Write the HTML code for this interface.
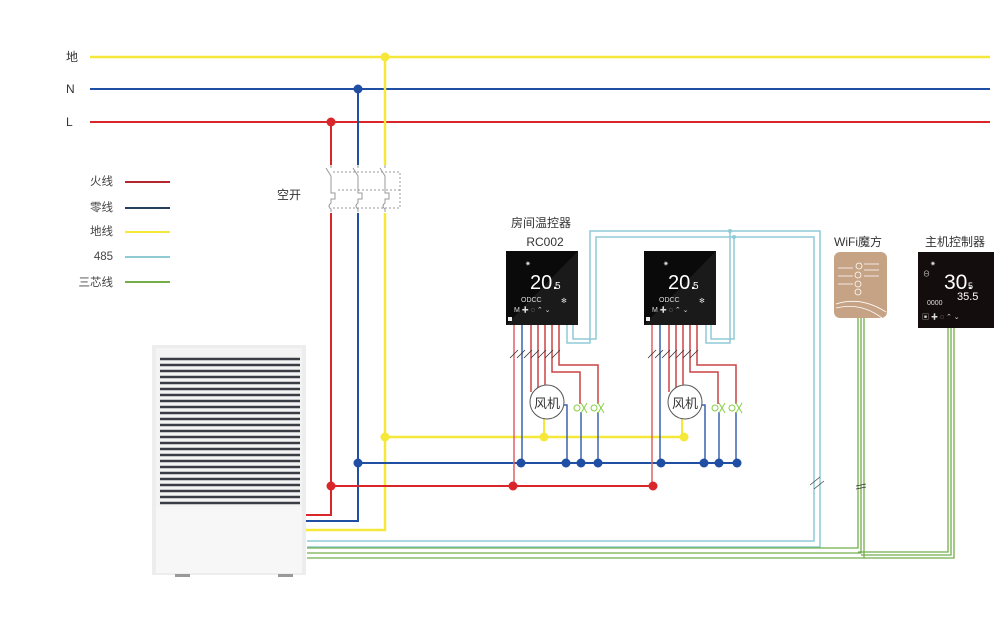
<!DOCTYPE html>
<html><head><meta charset="utf-8"><style>
html,body{margin:0;padding:0;background:#fff;}
svg{display:block;font-family:"Liberation Sans","Noto Sans CJK SC",sans-serif;}
</style></head><body>
<svg width="1008" height="643" viewBox="0 0 1008 643" xmlns="http://www.w3.org/2000/svg">
<rect width="1008" height="643" fill="#fff"/>
<g font-size="12" fill="#333">
<text x="66" y="61">地</text><text x="66" y="93">N</text><text x="66" y="126">L</text>
</g>
<line x1="90" y1="57" x2="990" y2="57" stroke="#f5e83a" stroke-width="2.5"/>
<line x1="90" y1="89" x2="990" y2="89" stroke="#1f4ea3" stroke-width="2"/>
<line x1="90" y1="122" x2="990" y2="122" stroke="#d9262b" stroke-width="2"/>
<g font-size="11.5" fill="#444" text-anchor="end">
<text x="113" y="185">火线</text><text x="113" y="211">零线</text><text x="113" y="235">地线</text><text x="113" y="260">485</text><text x="113" y="286">三芯线</text>
</g>
<line x1="125" y1="182" x2="170" y2="182" stroke="#b3262b" stroke-width="2"/>
<line x1="125" y1="208" x2="170" y2="208" stroke="#243e5e" stroke-width="2"/>
<line x1="125" y1="232" x2="170" y2="232" stroke="#f5e83a" stroke-width="2"/>
<line x1="125" y1="257" x2="170" y2="257" stroke="#8fcbd5" stroke-width="2"/>
<line x1="125" y1="282" x2="170" y2="282" stroke="#72ad4a" stroke-width="2"/>
<text x="277" y="199" font-size="12" fill="#333">空开</text>
<polyline points="331,122 331,165" fill="none" stroke="#d9262b" stroke-width="2"/>
<polyline points="358,89 358,165" fill="none" stroke="#1f4ea3" stroke-width="2"/>
<polyline points="385,57 385,165" fill="none" stroke="#f5e83a" stroke-width="2.5"/>
<g fill="none" stroke="#999" stroke-width="1">
<path d="M331,165 v3 M326,168 l5,8 v17 h4 v6 h-4 v4 q-4,3 0,6 v3"/>
<path d="M358,165 v3 M353,168 l5,8 v17 h4 v6 h-4 v4 q-4,3 0,6 v3"/>
<path d="M385,165 v3 M380,168 l5,8 v17 h4 v6 h-4 v4 q-4,3 0,6 v3"/>
<path d="M333,172 H400 V208 H333 M338,190 H400" stroke-dasharray="2,2"/>
</g>
<polyline points="331,213 331,515 305,515" fill="none" stroke="#d9262b" stroke-width="2"/>
<polyline points="358,213 358,521 305,521" fill="none" stroke="#1f4ea3" stroke-width="2"/>
<polyline points="385,213 385,530 305,530" fill="none" stroke="#f5e83a" stroke-width="2.5"/>
<line x1="385" y1="437" x2="685" y2="437" stroke="#f5e83a" stroke-width="2.5"/>
<line x1="358" y1="463" x2="738" y2="463" stroke="#1f4ea3" stroke-width="2"/>
<line x1="331" y1="486" x2="653" y2="486" stroke="#d9262b" stroke-width="2"/>
<g fill="none" stroke="#8fcbd5" stroke-width="1.5">
<polyline points="307,541 814,541 814,237 596,237 596,339 573,339 573,325"/>
<polyline points="307,547 820,547 820,231 590,231 590,343 567,343 567,325"/>
<polyline points="734,237 734,339 711,339 711,325"/>
<polyline points="730,231 730,343 706,343 706,325"/>
</g>
<circle cx="730" cy="231" r="2" fill="#8fcbd5"/><circle cx="734" cy="237" r="2" fill="#8fcbd5"/>
<path d="M810,485 l10,-8 M814,489 l10,-8" stroke="#444" stroke-width="0.8"/>
<g fill="none" stroke="#72ad4a" stroke-width="1.3">
<polyline points="307,548 858,548 858,318"/>
<polyline points="307,553 861,553 861,318"/>
<polyline points="307,558 864,558 864,318"/>
<polyline points="858,552 948,552 948,328"/>
<polyline points="861,555 951,555 951,328"/>
<polyline points="864,558 954,558 954,328"/>
</g>
<path d="M856,486 l10,-2 M856,489 l10,-2" stroke="#333" stroke-width="0.8"/>
<g id="t1">
<g fill="none" stroke-width="1.5">
<polyline points="514,325 514,486" stroke="#e06266"/>
<polyline points="522,325 522,463" stroke="#3a64ad"/>
<polyline points="531,325 531,392" stroke="#c44"/>
<polyline points="538,325 538,388" stroke="#c44"/>
<polyline points="545,325 545,386" stroke="#c44"/>
<polyline points="552,325 552,372 580,372 580,404" stroke="#c44"/>
<polyline points="559,325 559,365 598,365 598,404" stroke="#c44"/>
<polyline points="564,405 567,405 567,463" stroke="#3a64ad"/>
<polyline points="581,412 581,463" stroke="#3a64ad"/>
<polyline points="598,412 598,463" stroke="#3a64ad"/>
<line x1="544" y1="419" x2="544" y2="437" stroke="#f5e83a" stroke-width="2"/>
</g>
<path d="M510,358 l8,-8 M517,358 l8,-8 M524,358 l8,-8 M531,358 l8,-8 M538,358 l8,-8 M545,358 l8,-8 M552,358 l8,-8" stroke="#333" stroke-width="0.8"/>
<circle cx="547" cy="402" r="17" fill="#fff" stroke="#555" stroke-width="1"/>
<text x="547" y="408" font-size="13" text-anchor="middle" fill="#333">风机</text>
<g fill="none" stroke="#8c4" stroke-width="1"><circle cx="577" cy="408" r="3"/><path d="M581,403 l6,10 M587,403 l-6,10"/><circle cx="594" cy="408" r="3"/><path d="M598,403 l6,10 M604,403 l-6,10"/></g>
<rect x="506" y="251" width="72" height="74" fill="#0a0a0a"/>
<polygon points="506,325 578,251 578,325" fill="#1a1a1a"/>
<text x="530" y="289" font-size="20" fill="#fff" font-family="Liberation Sans,sans-serif">20.</text><text x="555" y="289" font-size="10" fill="#fff">5</text>
<g fill="#ddd" font-size="7"><text x="514" y="312">M ✚ ◌ ⌃ ⌄</text><text x="521" y="302">ODCC</text><text x="561" y="303">✻</text><text x="525" y="266">✷</text></g>
<rect x="508" y="317" width="4" height="4" fill="#eee"/>
</g>
<use href="#t1" x="138"/>
<text x="541" y="227" font-size="12" text-anchor="middle" fill="#333">房间温控器</text>
<text x="545" y="246" font-size="12" text-anchor="middle" fill="#333">RC002</text>
<g fill="#f5e83a"><circle cx="385" cy="57" r="4.5"/><circle cx="385" cy="437" r="4.5"/><circle cx="544" cy="437" r="4.5"/><circle cx="684" cy="437" r="4.5"/></g>
<g fill="#1f4ea3"><circle cx="358" cy="89" r="4.5"/><circle cx="358" cy="463" r="4.5"/><circle cx="521" cy="463" r="4.5"/><circle cx="566" cy="463" r="4.5"/><circle cx="581" cy="463" r="4.5"/><circle cx="598" cy="463" r="4.5"/><circle cx="661" cy="463" r="4.5"/><circle cx="704" cy="463" r="4.5"/><circle cx="719" cy="463" r="4.5"/><circle cx="737" cy="463" r="4.5"/></g>
<g fill="#d9262b"><circle cx="331" cy="122" r="4.5"/><circle cx="331" cy="486" r="4.5"/><circle cx="513" cy="486" r="4.5"/><circle cx="653" cy="486" r="4.5"/></g>
<text x="858" y="246" font-size="12" text-anchor="middle" fill="#333">WiFi魔方</text>
<rect x="834" y="252" width="53" height="66" rx="6" fill="#c6a385"/>
<g fill="none" stroke="#fff" stroke-width="0.8"><circle cx="859" cy="266" r="3"/><circle cx="858" cy="275" r="3"/><circle cx="858" cy="284" r="3"/><circle cx="858" cy="292" r="3"/><path d="M838,268 h15 M838,276 h15 M838,284 h15 M864,264 h15 M864,270 h15 M864,276 h15 M836,304 q25,-8 50,8 M836,308 q25,-6 46,10"/></g>
<text x="984" y="265" font-size="6" fill="#fff">◥</text>
<text x="955" y="246" font-size="12" text-anchor="middle" fill="#333">主机控制器</text>
<rect x="918" y="252" width="76" height="76" fill="#140d0d"/>
<text x="944" y="289" font-size="21" fill="#fff">30.</text><text x="968" y="289" font-size="9" fill="#fff">5</text>
<text x="957" y="300" font-size="11" fill="#fff">35.5</text>
<g fill="#ddd" font-size="7"><text x="922" y="319">▣ ✚ ◌ ⌃ ⌄</text><text x="927" y="305">0000</text><text x="923" y="276">⊖</text><text x="930" y="266">✷</text></g>
<rect x="152" y="345" width="154" height="230" fill="#ededed"/>
<rect x="156" y="348" width="146" height="225" fill="#f4f4f4"/>
<g stroke="#3a3d44" stroke-width="2.6">
<line x1="160" y1="359" x2="300" y2="359"/><line x1="160" y1="365" x2="300" y2="365"/><line x1="160" y1="371" x2="300" y2="371"/><line x1="160" y1="377" x2="300" y2="377"/><line x1="160" y1="383" x2="300" y2="383"/><line x1="160" y1="389" x2="300" y2="389"/><line x1="160" y1="395" x2="300" y2="395"/><line x1="160" y1="401" x2="300" y2="401"/><line x1="160" y1="407" x2="300" y2="407"/><line x1="160" y1="413" x2="300" y2="413"/><line x1="160" y1="419" x2="300" y2="419"/><line x1="160" y1="425" x2="300" y2="425"/><line x1="160" y1="431" x2="300" y2="431"/><line x1="160" y1="437" x2="300" y2="437"/><line x1="160" y1="443" x2="300" y2="443"/><line x1="160" y1="449" x2="300" y2="449"/><line x1="160" y1="455" x2="300" y2="455"/><line x1="160" y1="461" x2="300" y2="461"/><line x1="160" y1="467" x2="300" y2="467"/><line x1="160" y1="473" x2="300" y2="473"/><line x1="160" y1="479" x2="300" y2="479"/><line x1="160" y1="485" x2="300" y2="485"/><line x1="160" y1="491" x2="300" y2="491"/><line x1="160" y1="497" x2="300" y2="497"/><line x1="160" y1="503" x2="300" y2="503"/>
</g>
<rect x="156" y="507" width="146" height="66" fill="#f7f7f7"/>
<rect x="175" y="574" width="15" height="3" fill="#999"/><rect x="278" y="574" width="15" height="3" fill="#999"/>
</svg>
</body></html>
